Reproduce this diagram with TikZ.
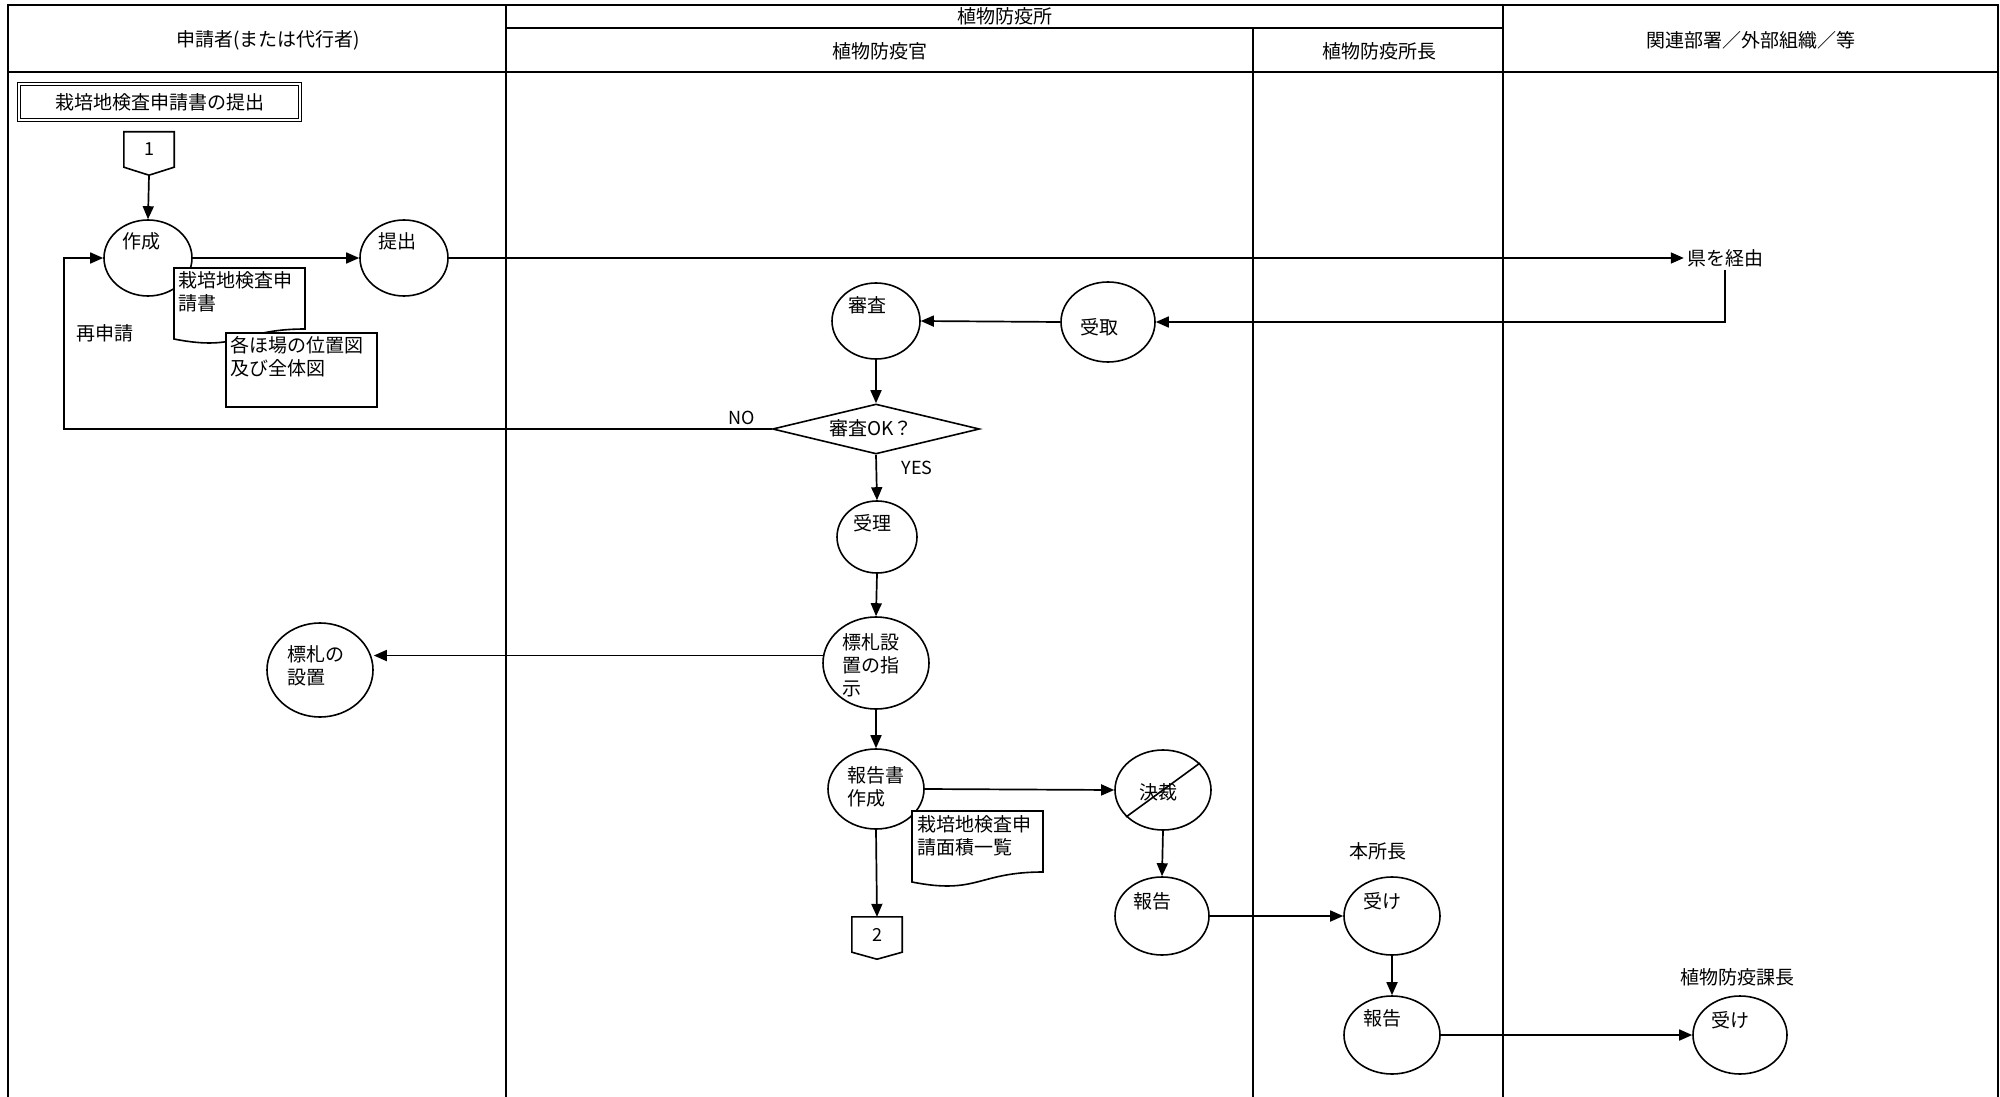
\documentclass[tikz,border=0pt]{standalone}
\usepackage{fontspec}
\setmainfont{Noto Sans CJK JP}
\usetikzlibrary{arrows.meta,shapes.geometric,calc}
\begin{document}
\begin{tikzpicture}[x=1pt,y=-1pt,
  every node/.style={font=\fontsize{19}{23}\selectfont},
  proc/.style={draw, ellipse, line width=1.6pt, fill=white, inner sep=0pt},
  txt/.style={inner sep=0pt, anchor=west},
  mtxt/.style={inner sep=0pt, anchor=north west, align=left},
  lat/.style={inner sep=0pt, font=\fontsize{18}{22}\selectfont},
  arr/.style={line width=1.7pt, -{Triangle[length=13pt,width=11pt]}},
  ln/.style={line width=1.6pt},
  lane/.style={line width=2pt},
  docshape/.style={draw, line width=1.6pt, fill=white},
]
\useasboundingbox (0,0) rectangle (2000,1097);
\fill[white] (0,0) rectangle (2000,1097);

% ---------- frame and lanes ----------
\draw[lane] (8,1097) -- (8,5) -- (1998,5) -- (1998,1097);
\draw[lane] (8,72) -- (1998,72);
\draw[lane] (506,28) -- (1503,28);
\draw[lane] (506,5) -- (506,1097);
\draw[lane] (1503,5) -- (1503,1097);
\draw[lane] (1253,28) -- (1253,1097);

\node[inner sep=0pt] (hA) at (268,40) {申請者(または代行者)};
\node[inner sep=0pt] (hB) at (1005,16) {植物防疫所};
\node[inner sep=0pt] (hC) at (880,51) {植物防疫官};
\node[inner sep=0pt] (hD) at (1379,51) {植物防疫所長};
\node[inner sep=0pt] (hE) at (1751,40) {関連部署／外部組織／等};

% ---------- title ----------
\node[draw, double, line width=1pt, double distance=2pt, minimum width=281pt,
      minimum height=36pt, inner sep=0pt] (title) at (159.5,102) {栽培地検査申請書の提出};

% ---------- connector 1 ----------
\node[lat, minimum width=50pt, minimum height=35pt] (c1) at (149,149.5) {1};
\coordinate (c1tip) at ($(c1.south)+(0,8)$);
\draw[ln] (c1.north west) -- (c1.north east) -- (c1.south east) -- (c1tip) -- (c1.south west) -- cycle;

% ---------- process ellipses ----------
\node[proc, minimum width=88pt, minimum height=76pt] (sakusei) at (148,258) {};
\node[txt] (sakusei-t) at (122,241) {作成};

\node[proc, minimum width=88pt, minimum height=76pt] (teishutsu) at (404,258) {};
\node[txt] (teishutsu-t) at (378,241) {提出};

\node[proc, minimum width=88pt, minimum height=76pt] (shinsa) at (876,321) {};
\node[txt] (shinsa-t) at (848,305) {審査};

\node[proc, minimum width=94pt, minimum height=80pt] (uketori) at (1108,322) {};
\node[txt] (uketori-t) at (1080,327) {受取};

\node[draw, diamond, aspect=4.14, line width=1.6pt, fill=white, inner sep=0pt,
      minimum width=207pt, minimum height=50pt] (dia) at (876,429) {};
\node[inner sep=0pt] (dia-t) at (871,428) {審査OK？};

\node[proc, minimum width=80pt, minimum height=72pt] (juri) at (877,537) {};
\node[txt] (juri-t) at (853,523) {受理};

\node[proc, minimum width=106pt, minimum height=92pt] (hyoshiji) at (876,663) {};
\node[mtxt] (hyoshiji-t) at (842,633.5) {標札設\\置の指\\示};

\node[proc, minimum width=106pt, minimum height=94pt] (hyosecchi) at (320,670) {};
\node[mtxt] (hyosecchi-t) at (287,645.5) {標札の\\設置};

\node[proc, minimum width=96pt, minimum height=80pt] (hokokusho) at (876,789) {};
\node[mtxt] (hokokusho-t) at (847,766.5) {報告書\\作成};

\node[proc, minimum width=96pt, minimum height=80pt] (kessai) at (1163,790) {};
\node[inner sep=0pt] (kessai-t) at (1158,792) {決裁};
\draw[ln] ($(kessai.center)+(37,-27)$) -- ($(kessai.center)+(-37,27)$);

\node[proc, minimum width=94pt, minimum height=78pt] (hokoku1) at (1162,916) {};
\node[txt] (hokoku1-t) at (1133,901) {報告};

\node[proc, minimum width=96pt, minimum height=78pt] (uke1) at (1392,916) {};
\node[txt] (uke1-t) at (1363,901) {受け};

\node[proc, minimum width=96pt, minimum height=78pt] (hokoku2) at (1392,1035) {};
\node[txt] (hokoku2-t) at (1363,1018) {報告};

\node[proc, minimum width=94pt, minimum height=78pt] (uke2) at (1740,1035) {};
\node[txt] (uke2-t) at (1711,1020) {受け};

% ---------- connector 2 ----------
\node[lat, minimum width=50pt, minimum height=35pt] (c2) at (877,934.5) {2};
\coordinate (c2tip) at ($(c2.south)+(0,7)$);
\draw[ln] (c2.north west) -- (c2.north east) -- (c2.south east) -- (c2tip) -- (c2.south west) -- cycle;

% ---------- documents ----------
\draw[docshape] (174,268) -- (305,268) -- (305,329)
   .. controls (239.5,329) and (239.5,352) .. (174,339) -- cycle;
\node[mtxt] (doc1-t) at (178,271.5) {栽培地検査申\\請書};

\draw[docshape] (226,333) rectangle (377,407);
\node[mtxt] (doc2-t) at (230,336.5) {各ほ場の位置図\\及び全体図};

\draw[docshape] (912,811) -- (1043,811) -- (1043,872)
   .. controls (977.5,872) and (977.5,895) .. (912,882) -- cycle;
\node[mtxt] (doc3-t) at (917,815.5) {栽培地検査申\\請面積一覧};

% ---------- free labels ----------
\node[inner sep=3pt] (ken) at (1725,258) {県を経由};
\node[inner sep=0pt] (saishinsei) at (105,333) {再申請};
\node[lat] (nolbl) at (742,418) {NO};
\node[lat] (yeslbl) at (917,468) {YES};
\node[inner sep=0pt] (honshocho) at (1378,851) {本所長};
\node[inner sep=0pt] (kachou) at (1737,977) {植物防疫課長};

% ---------- connectors ----------
\coordinate (nocorner) at (64,0);
\draw[arr] (c1tip) -- (sakusei.north);
\draw[arr] (sakusei.east) -- (teishutsu.west);
\draw[arr] (teishutsu.east) -- (ken.west);
\draw[arr] (ken.south) |- (uketori.east);
\draw[arr] (uketori.west) -- (shinsa.east);
\draw[arr] (shinsa.south) -- (dia.north);
\draw[arr] (dia.west) -- (dia.west -| nocorner) -- (sakusei.west -| nocorner) -- (sakusei.west);
\draw[arr] (dia.south) -- (juri.north);
\draw[arr] (juri.south) -- (hyoshiji.north);
\draw[arr] (hyoshiji.172) -- (hyoshiji.172 -| hyosecchi.east);
\draw[arr] (hyoshiji.south) -- (hokokusho.north);
\draw[arr] (hokokusho.east) -- (kessai.west);
\draw[arr] (hokokusho.south) -- (c2.north);
\draw[arr] (kessai.south) -- (hokoku1.north);
\draw[arr] (hokoku1.east) -- (uke1.west);
\draw[arr] (uke1.south) -- (hokoku2.north);
\draw[arr] (hokoku2.east) -- (uke2.west);
\end{tikzpicture}
\end{document}
